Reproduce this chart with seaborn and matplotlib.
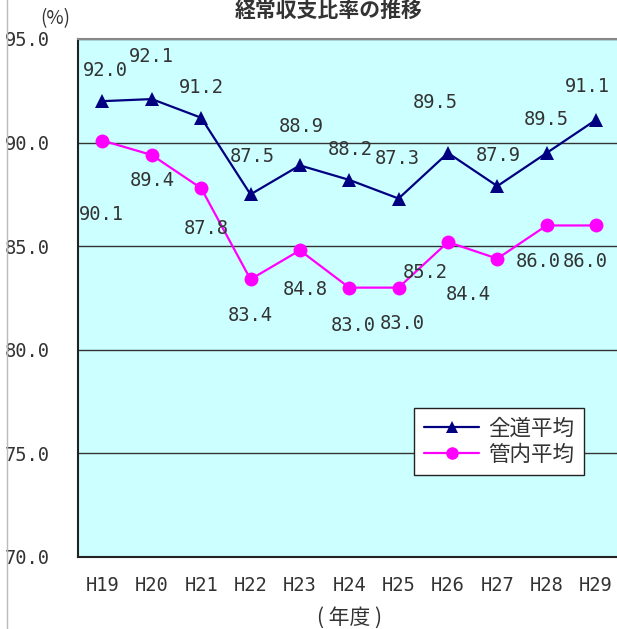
import matplotlib
matplotlib.use("Agg")
import matplotlib.pyplot as plt
from matplotlib.lines import Line2D
import seaborn as sns
import pandas as pd

# Fiscal years and ordinary balance ratios (%)
years = ["H19", "H20", "H21", "H22", "H23", "H24", "H25", "H26", "H27", "H28", "H29"]
hokkaido_avg = [92.0, 92.1, 91.2, 87.5, 88.9, 88.2, 87.3, 89.5, 87.9, 89.5, 91.1]
local_avg = [90.1, 89.4, 87.8, 83.4, 84.8, 83.0, 83.0, 85.2, 84.4, 86.0, 86.0]
series_names = ["全道平均", "管内平均"]
y_ticks = [70.0, 75.0, 80.0, 85.0, 90.0, 95.0]

# Value-label offsets (points) for each series
offs_hokkaido = [(2, 22), (0, 31), (0, 22), (1, 27), (1, 28), (1, 22), (-1, 29), (-9, 36), (1, 22), (0, 24), (-6, 24)]
offs_local = [(-1, -53), (0, -18), (4, -29), (0, -26), (4, -28), (3, -27), (3, -26), (-16, -22), (-21, -26), (-6, -26), (-8, -26)]

sns.set_theme(style="white")
num_font = ["DejaVu Sans Mono", "Noto Sans CJK JP"]
cjk_font = ["Noto Sans CJK JP", "DejaVu Sans"]
plt.rcParams["font.family"] = cjk_font

df = pd.DataFrame({
    "年度": years * 2,
    "比率": hokkaido_avg + local_avg,
    "区分": [series_names[0]] * len(years) + [series_names[1]] * len(years),
})

fig = plt.figure(figsize=(6.17, 6.29), dpi=100)
ax = fig.add_axes([0.126, 0.1145, 0.88, 0.8235])
ax.set_facecolor("#CCFFFF")

palette = {series_names[0]: "#000080", series_names[1]: "#FF00FF"}
sns.lineplot(data=df, x="年度", y="比率", hue="区分", style="区分",
             markers={series_names[0]: "^", series_names[1]: "o"},
             dashes=False, palette=palette, sort=False, ax=ax,
             linewidth=1.6, markersize=10, markeredgewidth=0, legend=False)

text_color = "#333333"
for vals, offs in ((hokkaido_avg, offs_hokkaido), (local_avg, offs_local)):
    for i, (v, o) in enumerate(zip(vals, offs)):
        ax.annotate(f"{v:.1f}", (i, v), xytext=o, textcoords="offset points",
                    ha="center", va="center", fontsize=13.5, color=text_color,
                    family=num_font)

ax.set_ylim(70, 95)
ax.set_xlim(-0.5, len(years) - 0.5)
ax.set_yticks(y_ticks)
ax.set_yticklabels([f"{t:.1f}" for t in y_ticks], fontsize=13.5, color=text_color,
                   family=num_font)
ax.set_xticks(range(len(years)))
ax.set_xticklabels(years, fontsize=13.5, color=text_color, family=num_font)
ax.set_xticks([i + 0.5 for i in range(len(years) - 1)], minor=True)
ax.tick_params(axis="x", which="major", length=0, pad=14)
ax.tick_params(axis="x", which="minor", direction="in", length=5, width=1, color="#333333")
ax.tick_params(axis="y", length=0, pad=20)
ax.yaxis.grid(True, color="#333333", linewidth=1)
ax.xaxis.grid(False)
ax.set_axisbelow(True)
ax.set_ylabel("")
ax.set_xlabel("( 年度 )", fontsize=15, color=text_color, labelpad=8)

for side in ("left", "bottom"):
    ax.spines[side].set_color("#222222")
    ax.spines[side].set_linewidth(1.5)
ax.spines["top"].set_color("#888888")
ax.spines["top"].set_linewidth(1.5)
ax.spines["right"].set_visible(False)

handles = [
    Line2D([], [], color="#000080", marker="^", markersize=9, markeredgewidth=0, linewidth=1.6),
    Line2D([], [], color="#FF00FF", marker="o", markersize=9, markeredgewidth=0, linewidth=1.6),
]
leg = ax.legend(handles, series_names, loc="upper left", bbox_to_anchor=(0.619, 0.288),
                borderaxespad=0, fontsize=15.5, frameon=True, fancybox=False,
                handlelength=2.6, handletextpad=0.4, labelspacing=0.2, borderpad=0.45)
leg.get_frame().set_edgecolor("#222222")
leg.get_frame().set_linewidth(1)
leg.get_frame().set_facecolor("white")
leg.get_frame().set_alpha(1)
for t in leg.get_texts():
    t.set_color(text_color)

fig.text(0.089, 0.971, "(%)", ha="center", va="center", fontsize=13.5, color=text_color)
fig.text(0.533, 0.983, "経常収支比率の推移", ha="center", va="center",
         fontsize=15, fontweight="bold", color=text_color)
fig.add_artist(Line2D([0.011, 0.011], [0, 1], transform=fig.transFigure,
                      color="#BBBBBB", linewidth=1))

fig.savefig("out.png", dpi=100)
